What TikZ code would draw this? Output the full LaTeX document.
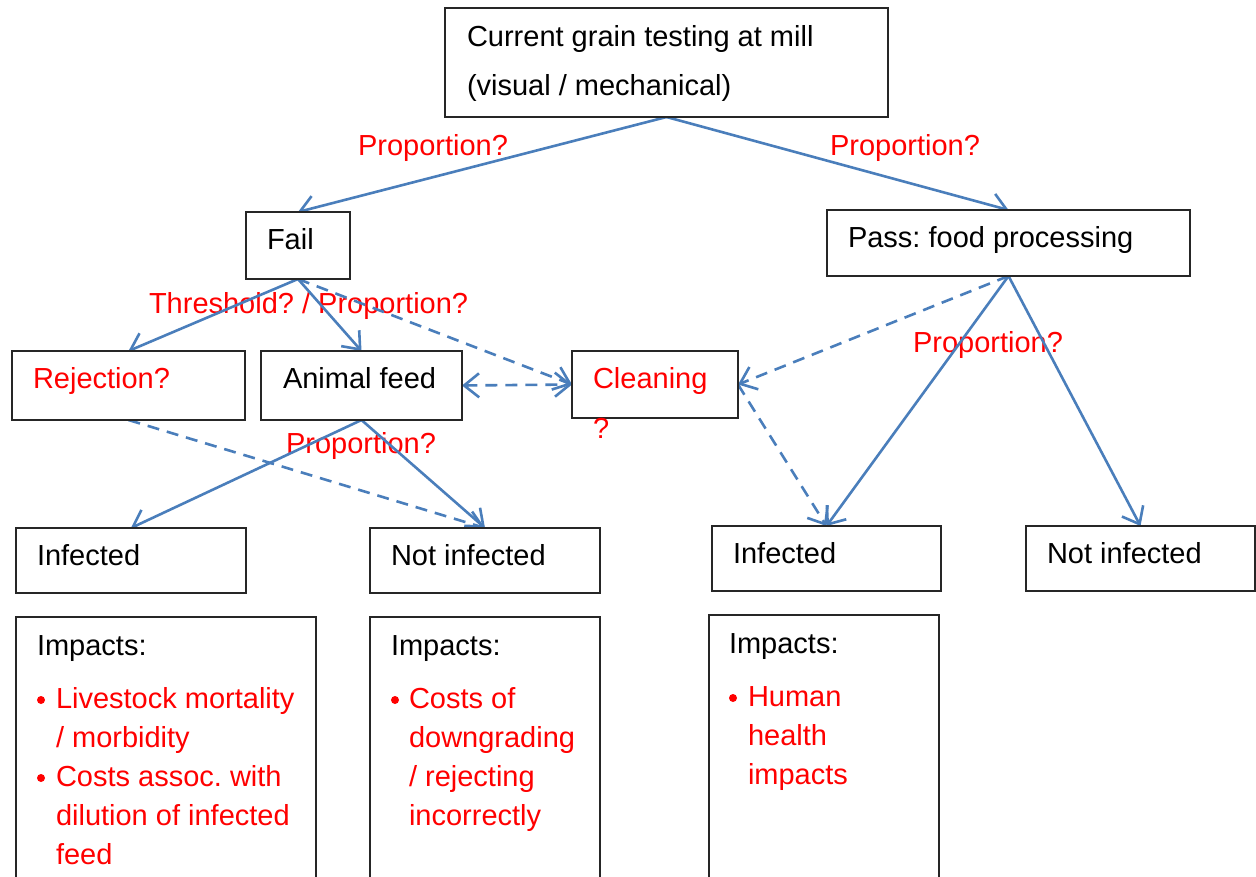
\documentclass[tikz,border=0pt]{standalone}
\usepackage{fontspec}
\setmainfont{Liberation Sans}
\usetikzlibrary{arrows.meta}
\definecolor{lineblue}{RGB}{74,126,187}
\definecolor{txtred}{RGB}{255,0,0}
\pgfdeclarelayer{labels}
\pgfdeclarelayer{connectors}
\pgfsetlayers{labels,connectors,main}
\tikzset{
  box/.style={draw=black!85, fill=white, line width=1.4pt, inner sep=0pt, outer sep=0pt, anchor=north west},
  txt/.style={inner sep=0pt, outer sep=0pt, anchor=base west, font=\fontsize{29}{35}\selectfont\frenchspacing},
  rtxt/.style={txt, text=txtred},
  tip/.tip={Straight Barb[length=15pt,width=24pt,line width=2.6pt]},
  conn/.style={draw=lineblue, line width=2.6pt, -tip},
  dconn/.style={conn, dash pattern=on 12pt off 8pt},
  bul/.style={circle, fill=txtred, inner sep=0pt, minimum size=8pt},
}
\begin{document}
\begin{tikzpicture}[x=1pt,y=-1pt]
\useasboundingbox (0,0) rectangle (1256,876);
\clip (0,0) rectangle (1256,876);
% boxes
\node[box, minimum width=443pt, minimum height=109pt] (top) at (445,8) {};
\node[box, minimum width=104pt, minimum height=67pt] (fail) at (246,212) {};
\node[box, minimum width=363pt, minimum height=66pt] (pass) at (827,210) {};
\node[box, minimum width=233pt, minimum height=69pt] (rej) at (12,351) {};
\node[box, minimum width=201pt, minimum height=69pt] (feed) at (261,351) {};
\node[box, minimum width=166pt, minimum height=67pt] (clean) at (572,351) {};
\node[box, minimum width=230pt, minimum height=65pt] (infL) at (16,528) {};
\node[box, minimum width=230pt, minimum height=65pt] (notL) at (370,528) {};
\node[box, minimum width=229pt, minimum height=65pt] (infR) at (712,526) {};
\node[box, minimum width=229pt, minimum height=65pt] (notR) at (1026,526) {};
\node[box, minimum width=300pt, minimum height=300pt] (impL) at (16,617) {};
\node[box, minimum width=230pt, minimum height=300pt] (impM) at (370,617) {};
\node[box, minimum width=230pt, minimum height=300pt] (impR) at (709,615) {};
% box texts
\node[txt] (topt1) at (467,46) {Current grain testing at mill};
\node[txt] (topt2) at (467,95) {(visual / mechanical)};
\node[txt] (failt) at (267,249) {Fail};
\node[txt] (passt) at (848,247) {Pass: food processing};
\node[rtxt] (rejt) at (33,388) {Rejection?};
\node[txt] (feedt) at (283,388) {Animal feed};
\node[rtxt] (cleant1) at (593,388) {Cleaning};
\node[rtxt] (cleant2) at (593,438) {?};
\node[txt] (infLt) at (37,565) {Infected};
\node[txt] (notLt) at (391,565) {Not infected};
\node[txt] (infRt) at (733,563) {Infected};
\node[txt] (notRt) at (1047,563) {Not infected};
% impacts left
\node[txt] (impLh) at (37,655) {Impacts:};
\node[bul] (bL1) at (41,700) {};
\node[rtxt] (impL1) at (56,708) {Livestock mortality};
\node[rtxt] (impL2) at (56,747) {/ morbidity};
\node[bul] (bL2) at (41,778) {};
\node[rtxt] (impL3) at (56,786) {Costs assoc. with};
\node[rtxt] (impL4) at (56,825) {dilution of infected};
\node[rtxt] (impL5) at (56,864) {feed};
% impacts middle
\node[txt] (impMh) at (391,655) {Impacts:};
\node[bul] (bM1) at (395,700) {};
\node[rtxt] (impM1) at (409,708) {Costs of};
\node[rtxt] (impM2) at (409,747) {downgrading};
\node[rtxt] (impM3) at (409,786) {/ rejecting};
\node[rtxt] (impM4) at (409,825) {incorrectly};
% impacts right
\node[txt] (impRh) at (729,653) {Impacts:};
\node[bul] (bR1) at (733,698) {};
\node[rtxt] (impR1) at (748,706) {Human};
\node[rtxt] (impR2) at (748,745) {health};
\node[rtxt] (impR3) at (748,784) {impacts};
% connectors
\begin{pgfonlayer}{connectors}
\draw[conn] (top.south) -- (fail.north);
\draw[conn] (top.south) -- (pass.north);
\draw[conn] (fail.south) -- (rej.north);
\draw[conn] (fail.south) -- (feed.north);
\draw[dconn] (fail.south) -- (clean.west);
\draw[dconn, tip-tip] (feed.east) -- (clean.west);
\draw[dconn] (pass.south) -- (clean.east);
\draw[dconn] (clean.east) -- (infR.north);
\draw[conn] (pass.south) -- (infR.north);
\draw[conn] (pass.south) -- (notR.north);
\draw[conn] (feed.south) -- (infL.north);
\draw[conn] (feed.south) -- (notL.north);
\draw[dconn] (rej.south) -- (notL.north);
\end{pgfonlayer}
% labels
\begin{pgfonlayer}{labels}
\node[rtxt] (lab1) at (358,155) {Proportion?};
\node[rtxt] (lab2) at (830,155) {Proportion?};
\node[rtxt] (lab3) at (149,313) {Threshold? / Proportion?};
\node[rtxt] (lab4) at (913,352) {Proportion?};
\node[rtxt] (lab5) at (286,453) {Proportion?};
\end{pgfonlayer}
\end{tikzpicture}
\end{document}
